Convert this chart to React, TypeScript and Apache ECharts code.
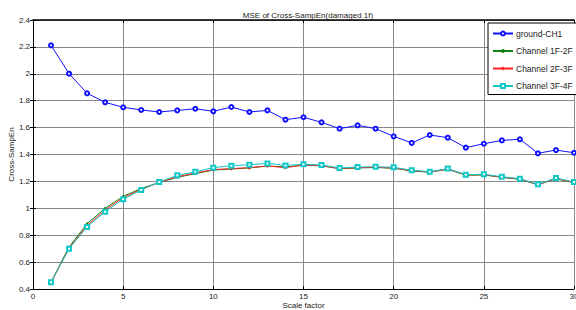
import React, { useEffect, useRef } from "react";
import * as echarts from "echarts";

const scales = Array.from({ length: 30 }, (_, i) => i + 1);
const groundCH1 = [2.212, 2.001, 1.855, 1.788, 1.751, 1.731, 1.716, 1.728, 1.740, 1.721, 1.753, 1.716, 1.728, 1.659, 1.677, 1.639, 1.592, 1.617, 1.592, 1.535, 1.486, 1.545, 1.525, 1.451, 1.480, 1.505, 1.513, 1.409, 1.433, 1.413];
const ch1F2F = [0.452, 0.712, 0.886, 1.000, 1.089, 1.147, 1.192, 1.230, 1.258, 1.284, 1.292, 1.300, 1.314, 1.308, 1.320, 1.316, 1.294, 1.300, 1.303, 1.298, 1.278, 1.268, 1.290, 1.246, 1.248, 1.230, 1.215, 1.175, 1.220, 1.190];
const ch2F3F = [0.448, 0.705, 0.871, 0.987, 1.079, 1.140, 1.193, 1.235, 1.262, 1.288, 1.295, 1.302, 1.315, 1.302, 1.322, 1.318, 1.296, 1.303, 1.305, 1.300, 1.280, 1.270, 1.292, 1.248, 1.250, 1.232, 1.218, 1.176, 1.222, 1.192];
const ch3F4F = [0.450, 0.700, 0.861, 0.975, 1.067, 1.136, 1.196, 1.245, 1.272, 1.302, 1.317, 1.324, 1.334, 1.319, 1.327, 1.322, 1.300, 1.307, 1.309, 1.305, 1.283, 1.272, 1.295, 1.250, 1.253, 1.235, 1.220, 1.178, 1.225, 1.196];

const FONT = "Liberation Sans";

export default function App() {
  const ref = useRef<HTMLDivElement>(null);
  useEffect(() => {
    if (!ref.current) return;
    const chart = echarts.init(ref.current, null, { renderer: "svg" });
    const pair = (arr: number[]) => arr.map((v, i) => [scales[i], v]);
    const axisText = { fontFamily: FONT, fontSize: 8, color: "#222" };
    chart.setOption({
      animation: false,
      backgroundColor: "#fff",
      title: {
        text: "MSE of Cross-SampEn(damaged 1f)",
        left: 303,
        textAlign: "center",
        top: 6,
        textStyle: { fontFamily: FONT, fontSize: 8, fontWeight: "normal", color: "#222" },
      },
      grid: { left: 33, right: 2, top: 20, bottom: 21, containLabel: false, outerBoundsMode: "none" },
      legend: {
        orient: "vertical",
        left: 488,
        top: 23,
        width: 84,
        padding: [6, 4, 4, 4],
        itemGap: 8.5,
        itemWidth: 20,
        itemHeight: 5,
        borderColor: "#000",
        borderWidth: 1,
        backgroundColor: "#fff",
        textStyle: { fontFamily: FONT, fontSize: 8.5, color: "#222", padding: [0, 0, 0, -2] },
        data: ["ground-CH1", "Channel 1F-2F", "Channel 2F-3F", "Channel 3F-4F"],
      },
      xAxis: [
        {
          type: "value",
          min: 0,
          max: 30,
          interval: 5,
          name: "Scale factor",
          nameLocation: "middle",
          nameGap: 12.5,
          nameMoveOverlap: false,
          nameTextStyle: axisText,
          axisLine: { lineStyle: { color: "#000", width: 1 } },
          axisTick: { inside: true, length: 3, lineStyle: { color: "#000" } },
          axisLabel: { ...axisText, margin: 3 },
          splitLine: { show: true, lineStyle: { color: "#888", width: 1 } },
        },
        {
          type: "value",
          position: "top",
          min: 0,
          max: 30,
          interval: 5,
          axisLine: { lineStyle: { color: "#000", width: 1.5 } },
          axisTick: { inside: true, length: 3, lineStyle: { color: "#000" } },
          axisLabel: { show: false },
          splitLine: { show: false },
        },
      ],
      yAxis: [
        {
          type: "value",
          min: 0.4,
          max: 2.4,
          interval: 0.2,
          name: "Cross-SampEn",
          nameLocation: "middle",
          nameGap: 18,
          nameMoveOverlap: false,
          nameTextStyle: axisText,
          axisLine: { show: true, lineStyle: { color: "#000", width: 1 } },
          axisTick: { show: true, inside: true, length: 3, lineStyle: { color: "#000" } },
          axisLabel: {
            ...axisText,
            margin: 3,
            formatter: (v: number) => String(Number(v.toFixed(1))),
          },
          splitLine: { show: true, lineStyle: { color: "#888", width: 1 } },
        },
        {
          type: "value",
          position: "right",
          min: 0.4,
          max: 2.4,
          interval: 0.2,
          axisLine: { show: true, lineStyle: { color: "#000", width: 1 } },
          axisTick: { show: true, inside: true, length: 3, lineStyle: { color: "#000" } },
          axisLabel: { show: false },
          splitLine: { show: false },
        },
      ],
      series: [
        {
          name: "ground-CH1",
          type: "line",
          data: pair(groundCH1),
          symbol: "emptyCircle",
          symbolSize: 4,
          lineStyle: { color: "#1010ff", width: 1 },
          itemStyle: { color: "#1010ff", borderWidth: 1 },
        },
        {
          name: "Channel 1F-2F",
          type: "line",
          data: pair(ch1F2F),
          symbol: "circle",
          symbolSize: 2.5,
          lineStyle: { color: "#108010", width: 1 },
          itemStyle: { color: "#108010" },
        },
        {
          name: "Channel 2F-3F",
          type: "line",
          data: pair(ch2F3F),
          symbol: "diamond",
          symbolSize: 3.5,
          lineStyle: { color: "#ff2020", width: 1 },
          itemStyle: { color: "#ff2020" },
        },
        {
          name: "Channel 3F-4F",
          type: "line",
          data: pair(ch3F4F),
          symbol: "emptyRect",
          symbolSize: 4,
          lineStyle: { color: "#10c8c8", width: 1 },
          itemStyle: { color: "#10c8c8", borderWidth: 1 },
        },
      ],
    });
    return () => chart.dispose();
  }, []);
  return (
    <div
      ref={ref}
      style={{ position: "fixed", left: 0, top: 0, width: 576, height: 310 }}
    />
  );
}
